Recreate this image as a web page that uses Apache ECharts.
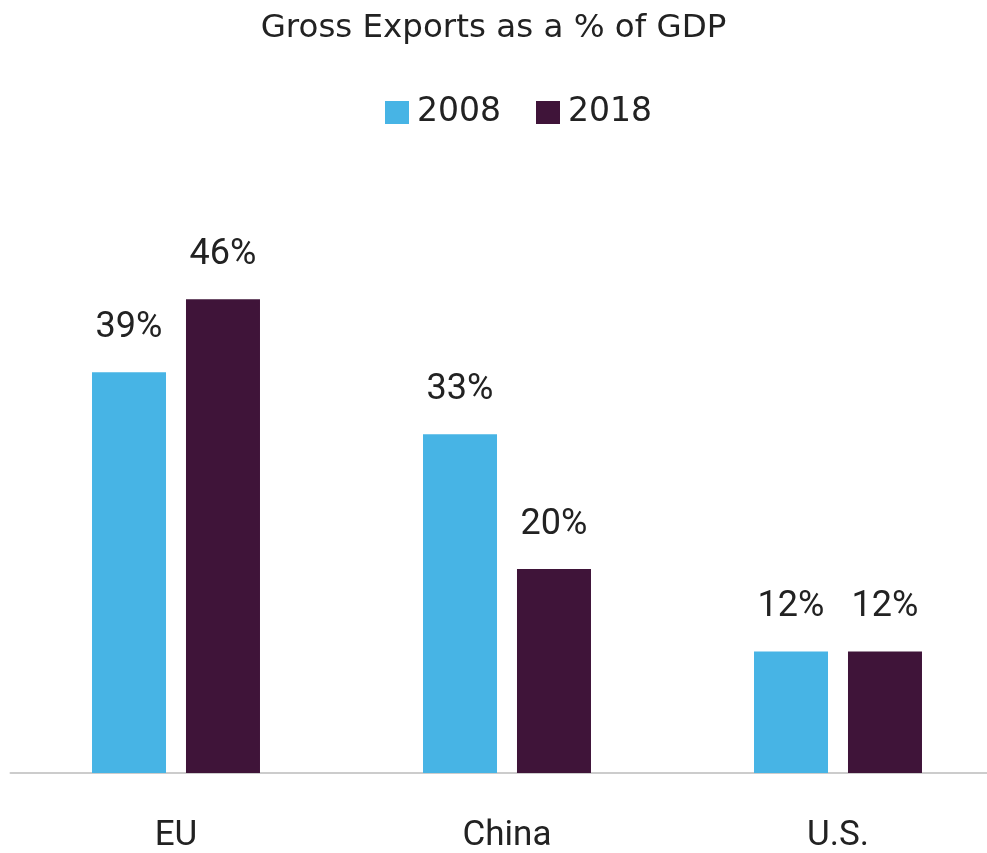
<!DOCTYPE html>
<html>
<head>
<meta charset="utf-8">
<style>
  html, body { margin: 0; padding: 0; background: #fff; }
  #chart { width: 987px; height: 853px; }
</style>
<script src="https://cdn.jsdelivr.net/npm/echarts@6/dist/echarts.min.js"></script>
</head>
<body>
<div id="chart"></div>
<script>
// values (% of GDP)
const regions = ['EU', 'China', 'U.S.']
const seriesNames = ['2008', '2018']
const exports2008 = [38.9, 32.9, 11.8]
const exports2018 = [46, 19.8, 11.8]
const barColors = ['#47B4E5', '#3F1439']

const font = 'Roboto'
const wideFont = 'DejaVu Sans'

function barSeries(name, data, color) {
  return {
    name: name,
    type: 'bar',
    data: data,
    barWidth: 74,
    barGap: '27%',
    itemStyle: { color: color },
    label: {
      show: true,
      position: 'top',
      distance: 26,
      fontFamily: font,
      fontSize: 36,
      color: '#222',
      formatter: p => Math.round(p.value) + '%'
    }
  }
}

const chart = echarts.init(document.getElementById('chart'))
chart.setOption({
  animation: false,
  title: {
    text: 'Gross Exports as a % of GDP',
    left: 'center',
    top: 7,
    textStyle: { fontFamily: wideFont, fontSize: 32.5, fontWeight: 'normal', color: '#222' }
  },
  legend: {
    data: seriesNames,
    left: 380,
    top: 91,
    itemWidth: 24,
    itemHeight: 23,
    itemGap: 35,
    icon: 'rect',
    textStyle: { fontFamily: wideFont, fontSize: 33, color: '#222', padding: [0, 0, 0, 3] }
  },
  // plot area runs past the right edge, as in the cropped original
  grid: { left: 10.5, width: 993, top: 258, bottom: 80, outerBoundsMode: 'none' },
  xAxis: {
    type: 'category',
    data: regions,
    offset: 3,
    axisTick: { show: false },
    axisLine: { lineStyle: { color: '#cccccc', width: 2 } },
    axisLabel: { fontFamily: font, fontSize: 35, color: '#222', margin: 43 }
  },
  yAxis: {
    type: 'value',
    min: 0,
    max: 50,
    show: false,
    splitLine: { show: false }
  },
  series: [
    barSeries(seriesNames[0], exports2008, barColors[0]),
    barSeries(seriesNames[1], exports2018, barColors[1])
  ]
})
</script>
</body>
</html>
